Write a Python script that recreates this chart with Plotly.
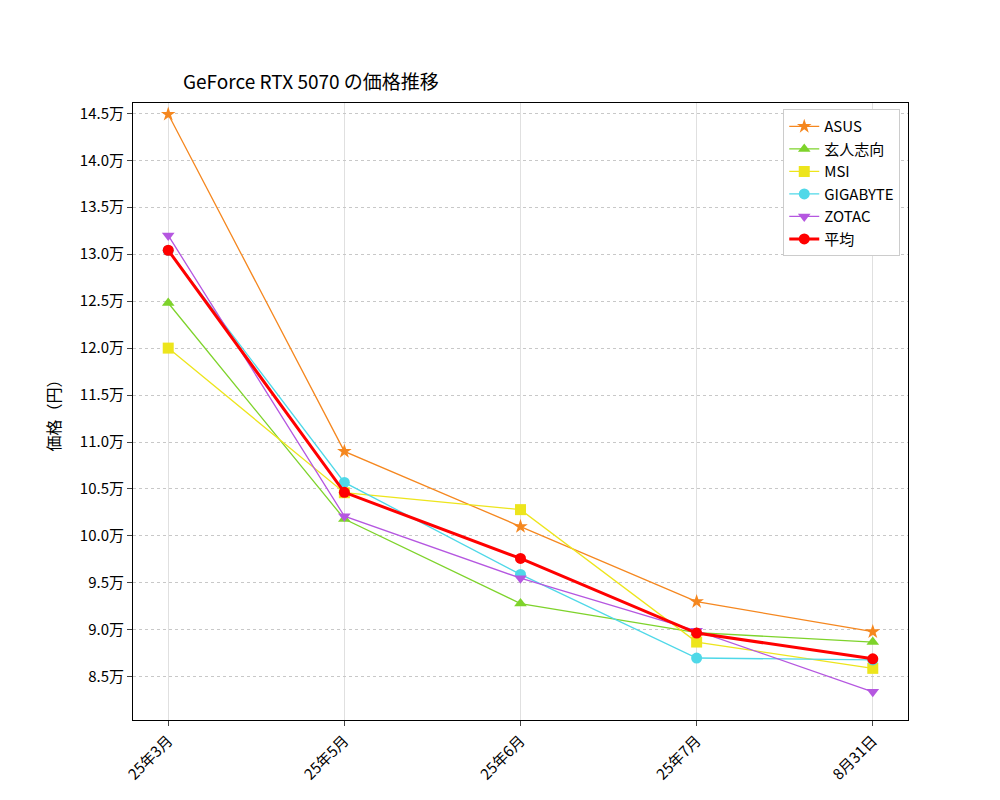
import plotly.graph_objects as go

categories = ["25年3月", "25年5月", "25年6月", "25年7月", "8月31日"]
series_names = ["ASUS", "玄人志向", "MSI", "GIGABYTE", "ZOTAC"]
asus = [144900, 109000, 101000, 93000, 89800]
kurouto = [124800, 101800, 92800, 89700, 88700]
msi = [120000, 104600, 102800, 88700, 85900]
gigabyte = [130400, 105700, 95900, 87000, 86800]
zotac = [132000, 102100, 95500, 89900, 83400]
series_values = [asus, kurouto, msi, gigabyte, zotac]
colors = ["#f5871f", "#7ed32b", "#ede51c", "#4fd8e8", "#b557e0"]
symbols = ["star", "triangle-up", "square", "circle", "triangle-down"]
average = [sum(v[i] for v in series_values) / 5 for i in range(5)]
ytick_vals = [85000 + 5000 * i for i in range(13)]
ytick_text = [f"{v/10000:.1f}万" for v in ytick_vals]

fig = go.Figure()
for n, v, c, s in zip(series_names, series_values, colors, symbols):
    fig.add_trace(go.Scatter(x=categories, y=v, name=n, mode="lines+markers",
                             line=dict(color=c, width=1.3),
                             marker=dict(symbol=s, size=11 if s != "star" else 11, color=c)))
fig.add_trace(go.Scatter(x=categories, y=average, name="平均", mode="lines+markers",
                         line=dict(color="#ff0000", width=3),
                         marker=dict(symbol="circle", size=11, color="#ff0000")))

font = "Noto Sans CJK JP"
fig.update_layout(
    width=1000, height=800, plot_bgcolor="white", paper_bgcolor="white",
    margin=dict(l=125, r=100, t=95, b=88, autoexpand=False),
    font=dict(family=font, size=15, color="black"),
    title=dict(text="GeForce RTX 5070 の価格推移", x=0.175, xanchor="left", y=0.907, yanchor="middle",
               font=dict(size=19)),
    legend=dict(x=0.99, y=0.99, xanchor="right", yanchor="top", bordercolor="#cccccc",
                borderwidth=1, bgcolor="white", font=dict(size=15), tracegroupgap=2),
)
fig.update_xaxes(range=[-0.2, 4.2], showline=True, linecolor="black", mirror=True, ticks="outside",
                 tickangle=-45, showgrid=True, gridcolor="#e0e0e0", tickfont=dict(size=15),
                 automargin=False)
fig.update_yaxes(range=[80400, 146100], tickvals=ytick_vals, ticktext=ytick_text, showline=True,
                 linecolor="black", mirror=True, ticks="outside", showgrid=True, gridcolor="#c8c8c8",
                 gridwidth=0.6, griddash="dot", title=dict(text="価格（円）", font=dict(size=16)),
                 zeroline=False, automargin=False)
fig.write_html("out.html")
